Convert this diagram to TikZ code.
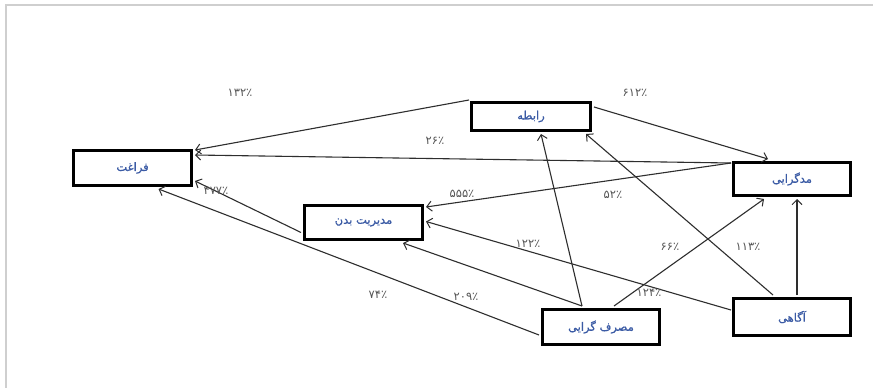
\documentclass[tikz,border=0pt]{standalone}
\usepackage{fontspec}
\setmainfont{DejaVu Sans}
\newfontfamily\farsi[Script=Arabic]{DejaVu Sans}
\newfontfamily\farsib[Script=Arabic,FakeBold=0.8]{DejaVu Sans}
\TeXXeTstate=1
\usetikzlibrary{arrows.meta,calc}
\definecolor{boxblue}{HTML}{3B5BA5}
\definecolor{lblgray}{HTML}{555555}
\definecolor{linegray}{HTML}{2E2E2E}
\definecolor{framegray}{HTML}{CFCFCF}
\begin{document}
\begin{tikzpicture}[x=1pt,y=-1pt,
  box/.style={draw=black,line width=3pt,fill=white,inner sep=0pt,
    font=\farsib\fontsize{11.5}{13}\selectfont,text=boxblue},
  lbl/.style={inner sep=0pt,font=\farsi\fontsize{11.5}{13}\selectfont,text=lblgray},
  conn/.style={draw=linegray,line width=1.1pt,-{Straight Barb[length=5pt,width=10pt,line width=1pt]}}]
\useasboundingbox (0,0) rectangle (873,388);
\fill[white] (0,0) rectangle (873,388);
\draw[framegray,line width=1.5pt] (6,388) -- (6,5) -- (873,5);

% boxes
\node[box,minimum width=118pt,minimum height=35pt] (far) at (132.5,168) {\beginR فراغت\endR};
\node[box,minimum width=119pt,minimum height=28pt] (rab) at (531,116.5) {\beginR رابطه\endR};
\node[box,minimum width=117pt,minimum height=33pt] (mod) at (792,179) {\beginR مدگرایی\endR};
\node[box,minimum width=117pt,minimum height=37pt] (aga) at (792,317) {\beginR آگاهی\endR};
\node[box,minimum width=117pt,minimum height=35pt] (mas) at (601,327) {\beginR مصرف گرایی\endR};
\node[box,minimum width=118pt,minimum height=34pt] (bod) at (363.5,222.5) {\beginR مدیریت بدن\endR};

% anchor points
\coordinate (rabNW) at ($(rab.north west)+(-1,-1)$);
\coordinate (farA) at ($(far.north east)+(2,1)$);
\coordinate (farB) at ($(far.north east)+(2,6)$);
\coordinate (modA) at ($(mod.north west)+(-1,2)$);
\coordinate (rabE) at ($(rab.north east)+(2,6)$);
\coordinate (modN) at ($(mod.north)+(-24,-2)$);
\coordinate (bodA) at ($(bod.north east)+(2,3)$);
\coordinate (agaW) at ($(aga.west)+(-1,-7)$);
\coordinate (bodE) at ($(bod.east)+(2,-1)$);
\coordinate (masN1) at ($(mas.north)+(-19,-2)$);
\coordinate (masN2) at ($(mas.north)+(13,-2)$);
\coordinate (rabS1) at ($(rab.south)+(10,2)$);
\coordinate (bodS) at ($(bod.south east)+(-21,2)$);
\coordinate (masW) at ($(mas.west)+(-2,8)$);
\coordinate (farS) at ($(far.south)+(26,2)$);
\coordinate (bodW) at ($(bod.west)+(-2,10)$);
\coordinate (farC) at ($(far.east)+(2,13)$);
\coordinate (modS) at ($(mod.south west)+(32,2)$);
\coordinate (agaN1) at ($(aga.north)+(5,-2)$);
\coordinate (modS2) at ($(mod.south)+(5,2)$);
\coordinate (agaN2) at ($(aga.north)+(-19,-2)$);
\coordinate (rabS2) at ($(rab.south east)+(-6,2)$);

% connectors
\draw[conn] (rabNW) -- (farA);
\draw[conn] (modA) -- (farB);
\draw[conn] (rabE) -- (modN);
\draw[conn] (modA) -- (bodA);
\draw[conn] (agaW) -- (bodE);
\draw[conn] (masN1) -- (rabS1);
\draw[conn] (masN1) -- (bodS);
\draw[conn] (masW) -- (farS);
\draw[conn] (bodW) -- (farC);
\draw[conn] (masN2) -- (modS);
\draw[conn] (agaN1) -- (modS2);
\draw[conn] (agaN2) -- (rabS2);

% labels
\node[lbl] (l1) at (240,93) {۱۳۲٪};
\node[lbl] (l2) at (635,93) {۶۱۲٪};
\node[lbl] (l3) at (435,141) {۲۶٪};
\node[lbl] (l4) at (216,191) {۴۷۷٪};
\node[lbl] (l5) at (462,194) {۵۵۵٪};
\node[lbl] (l6) at (613,195) {۵۲٪};
\node[lbl] (l7) at (528,244) {۱۲۲٪};
\node[lbl] (l8) at (670,247) {۶۶٪};
\node[lbl] (l9) at (748,247) {۱۱۳٪};
\node[lbl] (l10) at (649,293) {۱۲۴٪};
\node[lbl] (l11) at (378,295) {۷۴٪};
\node[lbl] (l12) at (466,297) {۲۰۹٪};
\end{tikzpicture}
\end{document}
